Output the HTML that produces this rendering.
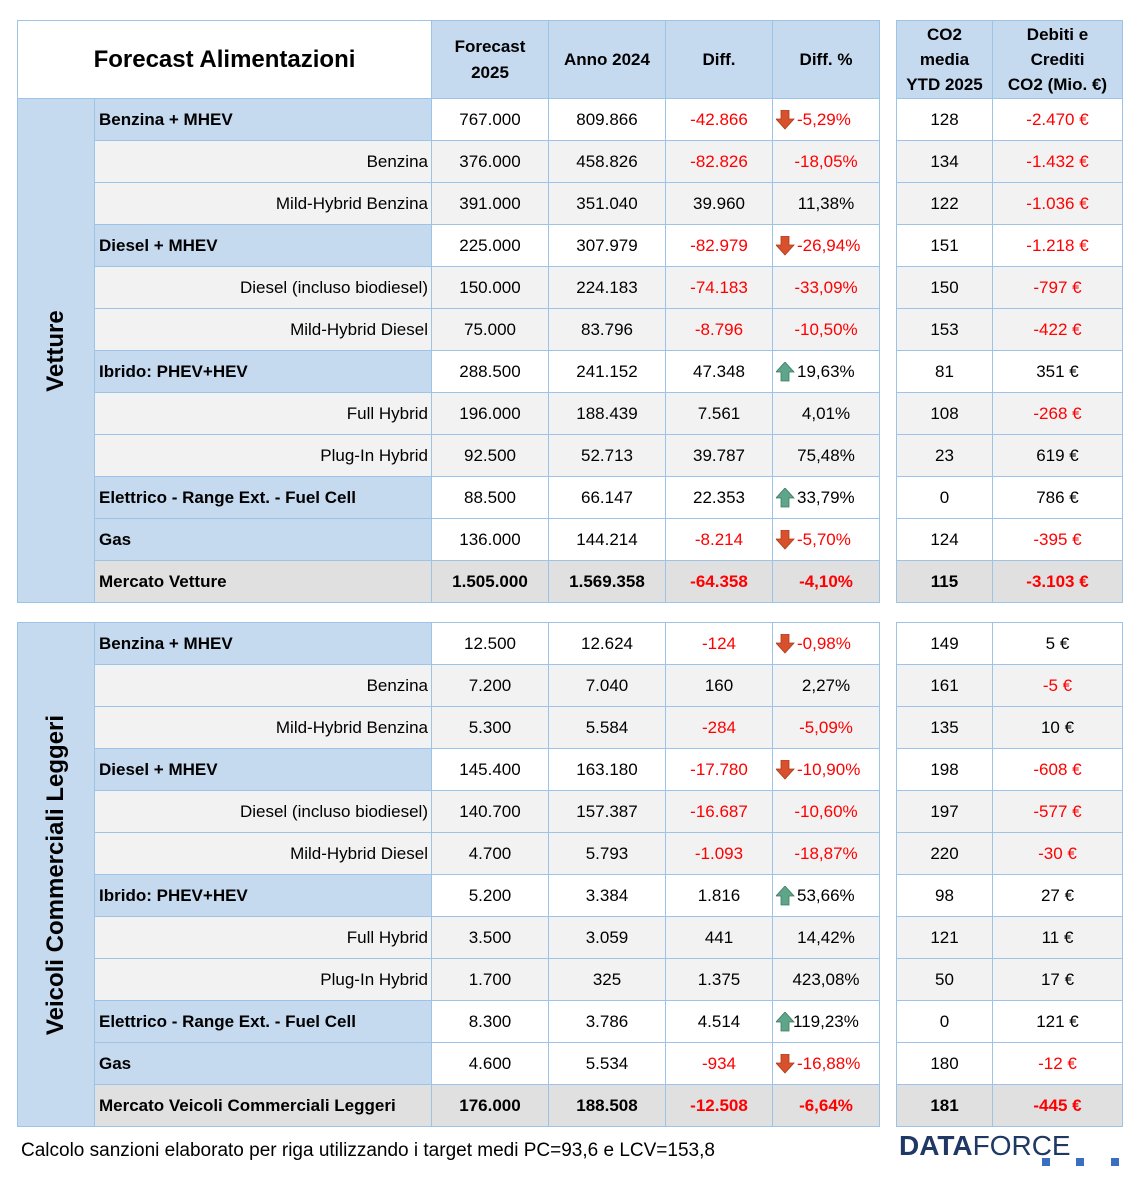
<!DOCTYPE html>
<html><head><meta charset="utf-8">
<style>
body{margin:0;width:1139px;height:1177px;background:#fff;position:relative;font-family:"Liberation Sans",sans-serif;color:#000;overflow:hidden}
table{position:absolute;border-collapse:collapse;table-layout:fixed;font-size:17px}
td{border:1px solid #9dc3e6;height:41px;padding:0;text-align:center;white-space:nowrap;overflow:hidden}
.h td{background:#c5d9ef;font-weight:bold;height:77px;line-height:26px}
.h2 td{line-height:25px}
.m td.n{background:#c5d9ef;font-weight:bold;text-align:left;padding-left:4px}
.s td{background:#f2f2f2}
.s td.n{text-align:right;padding-right:3px}
.t td{background:#e0e0e0;font-weight:bold}
.t td.n{text-align:left;padding-left:4px}
.r{color:#f00}
.side{background:#c5d9ef;position:relative}
.side span{position:absolute;left:50%;top:50%;transform:translate(-50%,-50%) rotate(-90deg);font-weight:bold;font-size:24px;white-space:nowrap}
.p{position:relative;text-align:left}
.p svg{position:absolute;left:3px;top:11px}
.p b{font-weight:normal;padding-left:24px}
</style></head><body>
<svg width="0" height="0" style="position:absolute"><defs>
<g id="dn"><path d="M5 0h8v9h5l-9 10-9-10h5z" fill="#d9502c" stroke="#a83a1c" stroke-width="0.8"/></g>
<g id="up"><path d="M9 0l9 10h-5v9H5v-9H0z" fill="#5fa58a" stroke="#3b7a62" stroke-width="0.8"/></g>
</defs></svg>

<table style="left:17px;top:20px;width:863px">
<colgroup><col style="width:77px"><col style="width:337px"><col style="width:117px"><col style="width:117px"><col style="width:107px"><col style="width:107px"></colgroup>
<tr class="h"><td colspan="2" style="background:#fff;font-size:24px">Forecast Alimentazioni</td><td>Forecast<br>2025</td><td>Anno 2024</td><td>Diff.</td><td>Diff. %</td></tr>
<tr class="m"><td class="side" rowspan="12"><span>Vetture</span></td><td class="n">Benzina + MHEV</td><td>767.000</td><td>809.866</td><td class="r">-42.866</td><td class="p r"><svg width="19" height="20"><use href="#dn"/></svg><b>-5,29%</b></td></tr>
<tr class="s"><td class="n">Benzina</td><td>376.000</td><td>458.826</td><td class="r">-82.826</td><td class="r">-18,05%</td></tr>
<tr class="s"><td class="n">Mild-Hybrid Benzina</td><td>391.000</td><td>351.040</td><td>39.960</td><td>11,38%</td></tr>
<tr class="m"><td class="n">Diesel + MHEV</td><td>225.000</td><td>307.979</td><td class="r">-82.979</td><td class="p r"><svg width="19" height="20"><use href="#dn"/></svg><b>-26,94%</b></td></tr>
<tr class="s"><td class="n">Diesel (incluso biodiesel)</td><td>150.000</td><td>224.183</td><td class="r">-74.183</td><td class="r">-33,09%</td></tr>
<tr class="s"><td class="n">Mild-Hybrid Diesel</td><td>75.000</td><td>83.796</td><td class="r">-8.796</td><td class="r">-10,50%</td></tr>
<tr class="m"><td class="n">Ibrido: PHEV+HEV</td><td>288.500</td><td>241.152</td><td>47.348</td><td class="p"><svg width="19" height="20"><use href="#up"/></svg><b>19,63%</b></td></tr>
<tr class="s"><td class="n">Full Hybrid</td><td>196.000</td><td>188.439</td><td>7.561</td><td>4,01%</td></tr>
<tr class="s"><td class="n">Plug-In Hybrid</td><td>92.500</td><td>52.713</td><td>39.787</td><td>75,48%</td></tr>
<tr class="m"><td class="n">Elettrico - Range Ext. - Fuel Cell</td><td>88.500</td><td>66.147</td><td>22.353</td><td class="p"><svg width="19" height="20"><use href="#up"/></svg><b>33,79%</b></td></tr>
<tr class="m"><td class="n">Gas</td><td>136.000</td><td>144.214</td><td class="r">-8.214</td><td class="p r"><svg width="19" height="20"><use href="#dn"/></svg><b>-5,70%</b></td></tr>
<tr class="t"><td class="n">Mercato Vetture</td><td>1.505.000</td><td>1.569.358</td><td class="r">-64.358</td><td class="r">-4,10%</td></tr>
</table>

<table style="left:896px;top:20px;width:226px">
<colgroup><col style="width:96px"><col style="width:130px"></colgroup>
<tr class="h h2"><td>CO2<br>media<br>YTD 2025</td><td>Debiti e<br>Crediti<br>CO2 (Mio. €)</td></tr>
<tr><td>128</td><td class="r">-2.470 €</td></tr>
<tr class="s"><td>134</td><td class="r">-1.432 €</td></tr>
<tr class="s"><td>122</td><td class="r">-1.036 €</td></tr>
<tr><td>151</td><td class="r">-1.218 €</td></tr>
<tr class="s"><td>150</td><td class="r">-797 €</td></tr>
<tr class="s"><td>153</td><td class="r">-422 €</td></tr>
<tr><td>81</td><td>351 €</td></tr>
<tr class="s"><td>108</td><td class="r">-268 €</td></tr>
<tr class="s"><td>23</td><td>619 €</td></tr>
<tr><td>0</td><td>786 €</td></tr>
<tr><td>124</td><td class="r">-395 €</td></tr>
<tr class="t"><td>115</td><td class="r">-3.103 €</td></tr>
</table>

<table style="left:17px;top:622px;width:863px">
<colgroup><col style="width:77px"><col style="width:337px"><col style="width:117px"><col style="width:117px"><col style="width:107px"><col style="width:107px"></colgroup>
<tr class="m"><td class="side" rowspan="12"><span>Veicoli Commerciali Leggeri</span></td><td class="n">Benzina + MHEV</td><td>12.500</td><td>12.624</td><td class="r">-124</td><td class="p r"><svg width="19" height="20"><use href="#dn"/></svg><b>-0,98%</b></td></tr>
<tr class="s"><td class="n">Benzina</td><td>7.200</td><td>7.040</td><td>160</td><td>2,27%</td></tr>
<tr class="s"><td class="n">Mild-Hybrid Benzina</td><td>5.300</td><td>5.584</td><td class="r">-284</td><td class="r">-5,09%</td></tr>
<tr class="m"><td class="n">Diesel + MHEV</td><td>145.400</td><td>163.180</td><td class="r">-17.780</td><td class="p r"><svg width="19" height="20"><use href="#dn"/></svg><b>-10,90%</b></td></tr>
<tr class="s"><td class="n">Diesel (incluso biodiesel)</td><td>140.700</td><td>157.387</td><td class="r">-16.687</td><td class="r">-10,60%</td></tr>
<tr class="s"><td class="n">Mild-Hybrid Diesel</td><td>4.700</td><td>5.793</td><td class="r">-1.093</td><td class="r">-18,87%</td></tr>
<tr class="m"><td class="n">Ibrido: PHEV+HEV</td><td>5.200</td><td>3.384</td><td>1.816</td><td class="p"><svg width="19" height="20"><use href="#up"/></svg><b>53,66%</b></td></tr>
<tr class="s"><td class="n">Full Hybrid</td><td>3.500</td><td>3.059</td><td>441</td><td>14,42%</td></tr>
<tr class="s"><td class="n">Plug-In Hybrid</td><td>1.700</td><td>325</td><td>1.375</td><td>423,08%</td></tr>
<tr class="m"><td class="n">Elettrico - Range Ext. - Fuel Cell</td><td>8.300</td><td>3.786</td><td>4.514</td><td class="p"><svg width="19" height="20"><use href="#up"/></svg><b style="padding-left:20px">119,23%</b></td></tr>
<tr class="m"><td class="n">Gas</td><td>4.600</td><td>5.534</td><td class="r">-934</td><td class="p r"><svg width="19" height="20"><use href="#dn"/></svg><b>-16,88%</b></td></tr>
<tr class="t"><td class="n">Mercato Veicoli Commerciali Leggeri</td><td>176.000</td><td>188.508</td><td class="r">-12.508</td><td class="r">-6,64%</td></tr>
</table>

<table style="left:896px;top:622px;width:226px">
<colgroup><col style="width:96px"><col style="width:130px"></colgroup>
<tr><td>149</td><td>5 €</td></tr>
<tr class="s"><td>161</td><td class="r">-5 €</td></tr>
<tr class="s"><td>135</td><td>10 €</td></tr>
<tr><td>198</td><td class="r">-608 €</td></tr>
<tr class="s"><td>197</td><td class="r">-577 €</td></tr>
<tr class="s"><td>220</td><td class="r">-30 €</td></tr>
<tr><td>98</td><td>27 €</td></tr>
<tr class="s"><td>121</td><td>11 €</td></tr>
<tr class="s"><td>50</td><td>17 €</td></tr>
<tr><td>0</td><td>121 €</td></tr>
<tr><td>180</td><td class="r">-12 €</td></tr>
<tr class="t"><td>181</td><td class="r">-445 €</td></tr>
</table>

<div style="position:absolute;left:21px;top:1140px;font-size:19px">Calcolo sanzioni elaborato per riga utilizzando i target medi PC=93,6 e LCV=153,8</div>
<div style="position:absolute;left:899px;top:1130px;font-size:28px;color:#1f3864"><b>DATA</b>FORCE</div>
<div style="position:absolute;left:1042px;top:1158px;width:8px;height:8px;background:#3a6fc0"></div>
<div style="position:absolute;left:1076px;top:1158px;width:8px;height:8px;background:#3a6fc0"></div>
<div style="position:absolute;left:1111px;top:1158px;width:8px;height:8px;background:#3a6fc0"></div>
</body></html>
